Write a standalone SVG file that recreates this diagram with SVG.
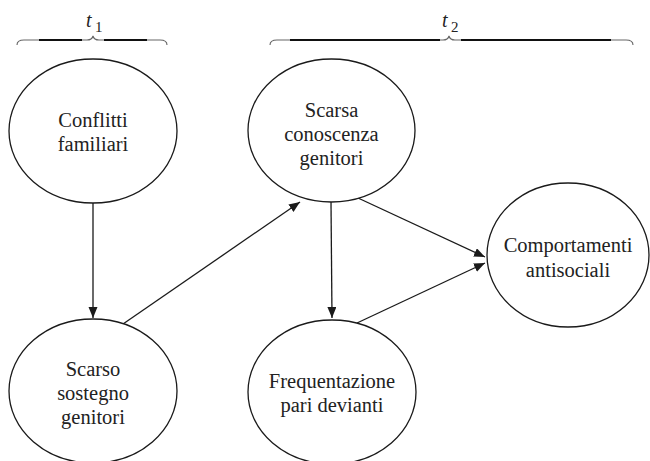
<svg xmlns="http://www.w3.org/2000/svg" width="650" height="461" viewBox="0 0 650 461">
<defs>
<style>
.node ellipse{fill:#fff;stroke:#1a1a1a;stroke-width:1.3}
.node text{font-size:20.5px;fill:#222;text-anchor:middle}
.conn line{stroke:#1a1a1a;stroke-width:1.3;marker-end:url(#arr)}
.brace-thin{fill:none;stroke:#666;stroke-width:1.1}
.brace-thick{fill:none;stroke:#111;stroke-width:2}
.lbl{fill:#222;font-style:italic;font-size:20px}
.sub{fill:#222;font-size:15px}
</style>
<marker id="arr" markerUnits="userSpaceOnUse" markerWidth="12" markerHeight="10" refX="11" refY="4.5" orient="auto">
<path d="M0,0 L11,4.5 L0,9 Z" fill="#1a1a1a"/>
</marker>
</defs>
<rect width="650" height="461" fill="#fff"/>
<g font-family="'Liberation Serif', 'Times New Roman', serif">
<g id="time-t1">
<path class="brace-thin" d="M17,45 Q17,40 24,40 L87,40 Q92,40 93,36 Q94,40 99,40 L160,40 Q167,40 167,45"/>
<path class="brace-thick" d="M39,40 L82,40 M104,40 L147,40"/>
<text class="lbl" x="86" y="27">t</text><text class="sub" x="95" y="32">1</text>
</g>
<g id="time-t2">
<path class="brace-thin" d="M270,45 Q270,40 277,40 L443,40 Q448,40 449,36 Q450,40 455,40 L626,40 Q633,40 633,45"/>
<path class="brace-thick" d="M290,40 L440,40 M461,40 L611,40"/>
<text class="lbl" x="442" y="27">t</text><text class="sub" x="451" y="32">2</text>
</g>
<g class="conn" id="connectors">
<line x1="93" y1="203" x2="93" y2="318"/>
<line x1="123" y1="324" x2="300" y2="202"/>
<line x1="331" y1="202" x2="332" y2="318"/>
<line x1="358" y1="198" x2="485" y2="257"/>
<line x1="357" y1="323" x2="485" y2="263"/>
</g>
<g class="node" id="conflitti">
<ellipse cx="93" cy="131" rx="84" ry="72"/>
<text x="93" y="127">Conflitti</text>
<text x="93" y="151">familiari</text>
</g>
<g class="node" id="scarsa-conoscenza">
<ellipse cx="331.5" cy="130.5" rx="83.5" ry="71.5"/>
<text x="331.5" y="117">Scarsa</text>
<text x="331.5" y="141">conoscenza</text>
<text x="331.5" y="165">genitori</text>
</g>
<g class="node" id="scarso-sostegno">
<ellipse cx="93" cy="391" rx="84" ry="72"/>
<text x="93" y="376">Scarso</text>
<text x="93" y="400">sostegno</text>
<text x="93" y="424">genitori</text>
</g>
<g class="node" id="frequentazione">
<ellipse cx="332" cy="392" rx="84" ry="72"/>
<text x="332" y="388">Frequentazione</text>
<text x="332" y="412">pari devianti</text>
</g>
<g class="node" id="comportamenti">
<ellipse cx="568" cy="255" rx="81" ry="72"/>
<text x="568" y="252">Comportamenti</text>
<text x="568" y="277">antisociali</text>
</g>
</g>
</svg>
